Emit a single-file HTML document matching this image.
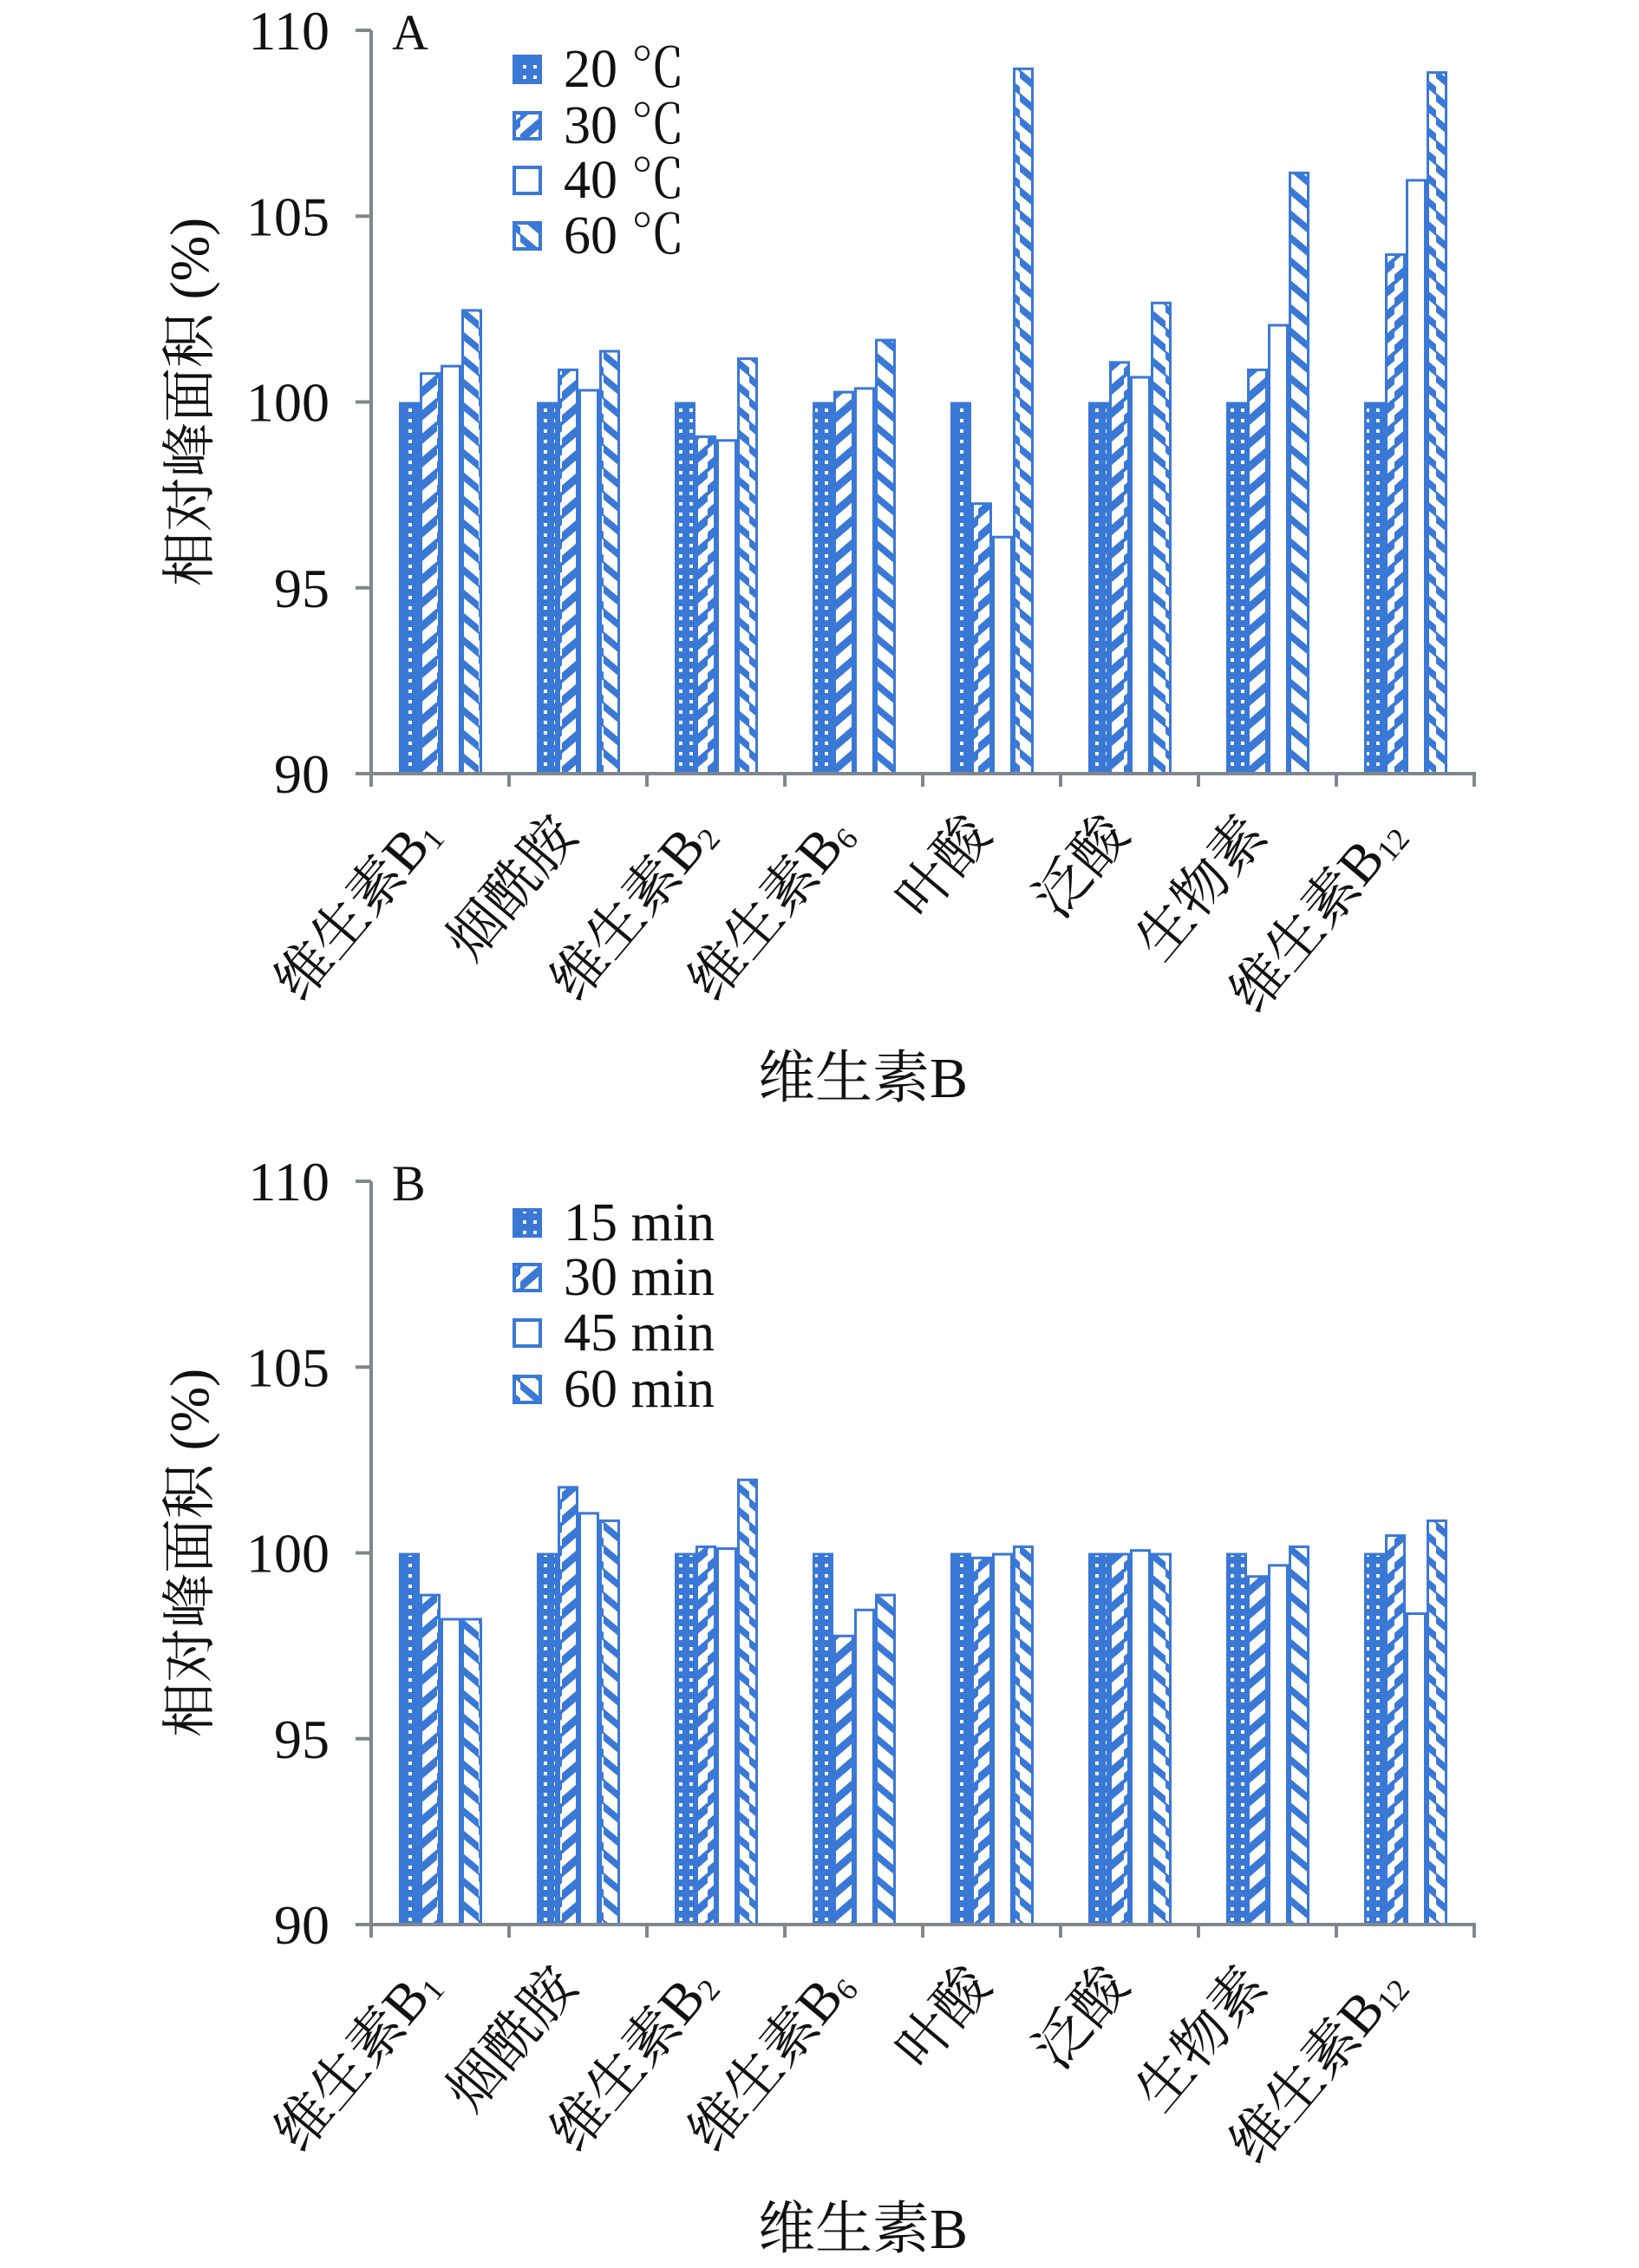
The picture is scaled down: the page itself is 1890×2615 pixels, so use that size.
<!DOCTYPE html>
<html><head><meta charset="utf-8">
<style>
html,body{margin:0;padding:0;background:#fff;}
svg{display:block;}
text{font-family:"Liberation Serif","Noto Serif CJK SC",serif;fill:#111;}
</style></head>
<body>
<svg id="root" width="1890" height="2615" viewBox="0 0 1890 2615" xmlns="http://www.w3.org/2000/svg">
<defs>
<pattern id="p0" width="12" height="12" patternUnits="userSpaceOnUse">
<rect width="12" height="12" fill="#3a78d6"/><rect x="3" y="3" width="4" height="4" fill="#fff"/>
</pattern>
<pattern id="p1" width="24" height="27" patternUnits="userSpaceOnUse">
<rect width="24" height="27" fill="#fff"/><path d="M-12,30 L30,-6 L30,6 L-12,42 Z M-12,3 L30,-33 L30,-21 L-12,15 Z" fill="#3a78d6"/>
</pattern>
<pattern id="p3" width="24" height="27" patternUnits="userSpaceOnUse">
<rect width="24" height="27" fill="#fff"/><path d="M-6,-6 L30,24 L30,34 L-6,4 Z M-6,21 L30,51 L30,61 L-6,31 Z M-6,-33 L30,-3 L30,7 L-6,-23 Z" fill="#3a78d6"/>
</pattern>
</defs>
</svg>
<script>
const categories=["维生素B|1","烟酰胺","维生素B|2","维生素B|6","叶酸","泛酸","生物素","维生素B|12"];
const seriesA1=[100,100,100,100,100,100,100,100];
const seriesA2=[100.8,100.9,99.1,100.3,97.3,101.1,100.9,104.0];
const seriesA3=[101.0,100.35,99.0,100.4,96.4,100.7,102.1,106.0];
const seriesA4=[102.5,101.4,101.2,101.7,109.0,102.7,106.2,108.9];
const seriesB1=[100,100,100,100,100,100,100,100];
const seriesB2=[98.9,101.8,100.2,97.8,99.9,100,99.4,100.5];
const seriesB3=[98.25,101.1,100.15,98.5,100.0,100.1,99.7,98.4];
const seriesB4=[98.25,100.9,102.0,98.9,100.2,100.0,100.2,100.9];
const legendA=["20 ℃","30 ℃","40 ℃","60 ℃"];
const legendB=["15 min","30 min","45 min","60 min"];
const yTicks=[90,95,100,105,110];

const NS="http://www.w3.org/2000/svg";
const root=document.getElementById('root');
function mk(tag,attrs,parent){const e=document.createElementNS(NS,tag);for(const k in attrs)e.setAttribute(k,attrs[k]);(parent||root).appendChild(e);return e;}
const fills=["url(#p0)","url(#p1)","#fff","url(#p3)"];

function drawChart(top,label,series,legend,legendYs,panel){
  const g=mk('g',{});
  
  
  const x0=428,x1=1700,y110=top,y90=top+857;
  const yS=v=>y90-(v-90)*(y90-y110)/20;
  const cw=(x1-x0)/categories.length;
  const xS=i=>x0+i*cw;
  series.forEach((s,si)=>{
    s.forEach((v,i)=>{
      const bx=xS(i)+32+si*24, yv=yS(v);
      const r=mk('rect',{x:bx+1.5,y:yv+1.5,width:21,height:y90-yv-1.5,fill:fills[si],stroke:'#3a78d6','stroke-width':3},g);
      
      
    });
  });
  const ya=mk('line',{x1:x0,y1:y110,x2:x0,y2:y90+1,stroke:'#7f868e','stroke-width':4},g);
  
  
  const xa=mk('line',{x1:x0-2,y1:y90,x2:x1+2,y2:y90,stroke:'#7f868e','stroke-width':4},g);
  
  
  yTicks.forEach(t=>{
    mk('line',{x1:x0-18,y1:yS(t),x2:x0,y2:yS(t),stroke:'#7f868e','stroke-width':4},g);
    const tl=mk('text',{x:x0-48,y:yS(t)+22,'text-anchor':'end','font-size':64},g);
    tl.textContent=t;
    
    
  });
  for(let i=0;i<=categories.length;i++){
    mk('line',{x1:xS(i),y1:y90,x2:xS(i),y2:y90+15,stroke:'#7f868e','stroke-width':4},g);
  }
  categories.forEach((c,i)=>{
    const cx=xS(i)+cw/2+2, cy=y90+72;
    const t=mk('text',{x:cx,y:cy,'text-anchor':'end','font-size':64,transform:`rotate(-50 ${cx} ${cy})`},g);
    
    
    const parts=c.split('|');
    const a=mk('tspan',{},t);a.textContent=parts[0];
    if(parts[1]){const b=mk('tspan',{'font-size':36,dy:6},t);b.textContent=parts[1];}
  });
  const yt=mk('text',{x:240,y:(y110+y90)/2,'text-anchor':'middle','font-size':63,transform:`rotate(-90 240 ${(y110+y90)/2})`},g);
  yt.textContent='相对峰面积 (%)';
  
  
  const xt=mk('text',{x:995,y:y90+373,'text-anchor':'middle','font-size':66},g);
  xt.textContent='维生素B';
  
  
  const pl=mk('text',{x:452,y:top+22,'font-size':58},g);
  pl.textContent=label;
  
  
  legend.forEach((l,i)=>{
    const cy=legendYs[i];
    const r=mk('rect',{x:593,y:cy-15,width:30,height:30,fill:fills[i],stroke:'#3a78d6','stroke-width':4},g);
    
    
    const t=mk('text',{x:650,y:cy+20,'font-size':62},g);
    t.textContent=l;
    
    
  });
}
drawChart(35,'A',[seriesA1,seriesA2,seriesA3,seriesA4],legendA,[80,145,208,272],'a');
drawChart(1362,'B',[seriesB1,seriesB2,seriesB3,seriesB4],legendB,[1410,1473,1537,1602],'b');
</script>
</body></html>
